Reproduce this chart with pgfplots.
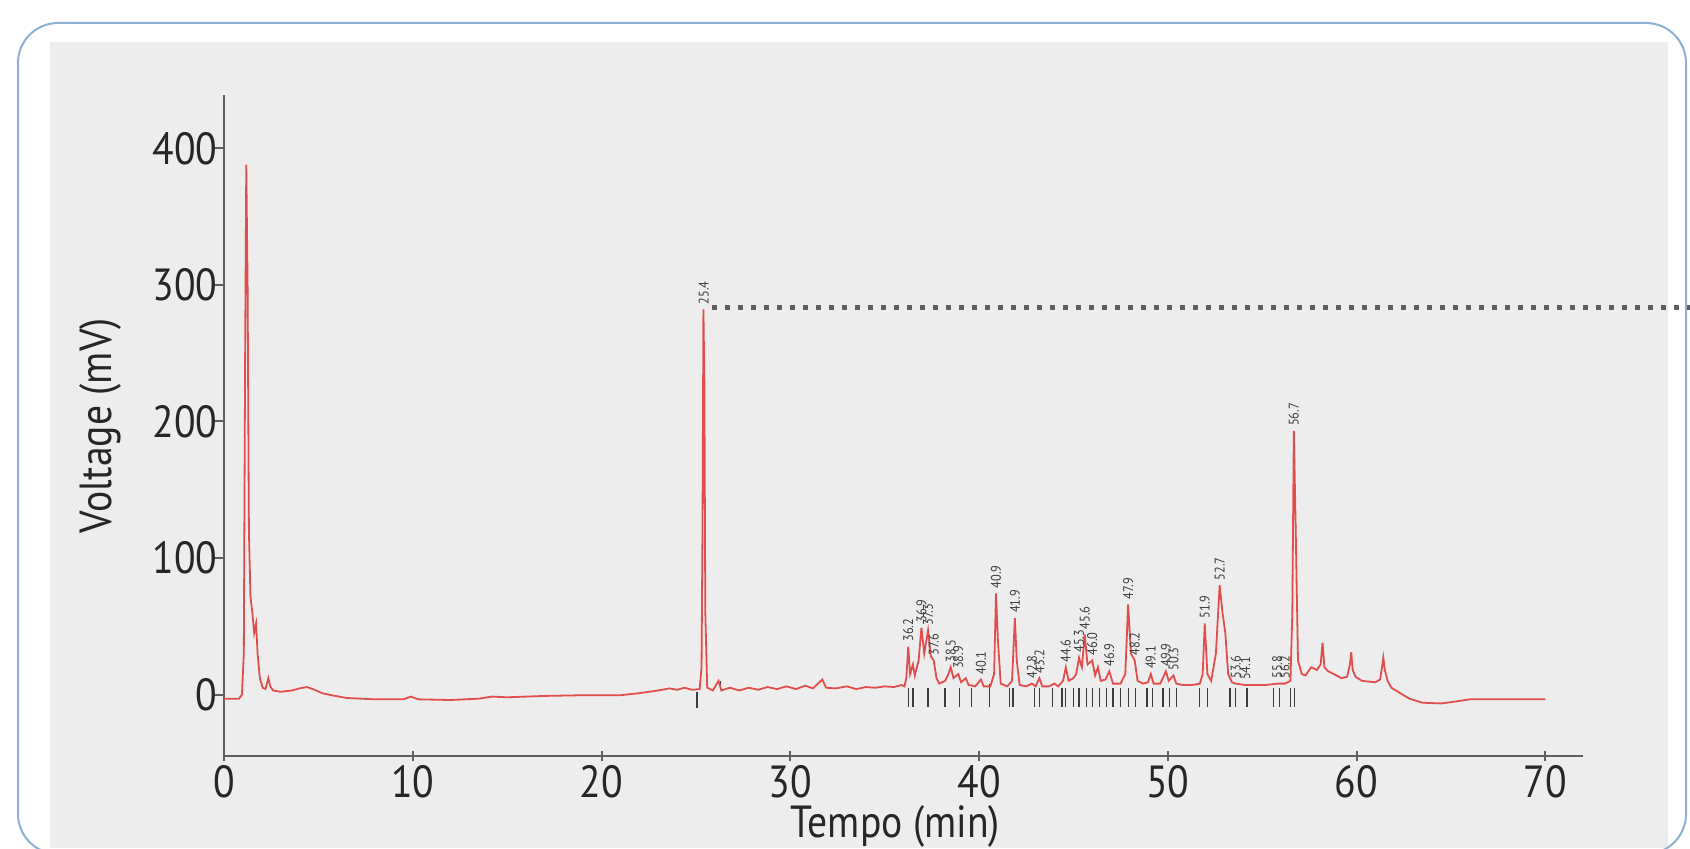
\documentclass[border=0pt]{standalone}
\usepackage{fontspec}
\setmainfont{PT Sans}[FakeStretch=0.88]
\usepackage{pgfplots}
\pgfplotsset{compat=1.18}
\definecolor{trace}{RGB}{226,78,78}
\definecolor{panel}{RGB}{236,237,236}
\definecolor{framecol}{RGB}{140,176,212}
\definecolor{axisgray}{RGB}{95,95,95}
\definecolor{dotcol}{RGB}{95,95,95}
\definecolor{labcol}{RGB}{60,60,60}

\begin{document}
\begin{tikzpicture}
\useasboundingbox (0,0) rectangle (845pt,424pt);
\fill[white] (0,0) rectangle (845pt,424pt);
\fill[panel] (25pt,0) rectangle (834pt,403pt);
\draw[framecol, line width=1pt, rounded corners=20pt] (9pt,-3pt) rectangle (843pt,412.5pt);
\begin{axis}[
  at={(112pt,46pt)}, anchor=south west,
  scale only axis, width=679.5pt, height=330.5pt,
  xmin=0, xmax=72, ymin=-45, ymax=439,
  axis lines=left,
  axis line style={-, draw=axisgray, line width=1.2pt},
  xtick={0,10,...,70}, ytick={0,100,...,400},
  xtick align=center, ytick align=outside,
  major tick length=5pt,
  tick style={axisgray, line width=1pt},
  /pgf/number format/assume math mode=true,
  tick label style={font=\fontsize{22.5}{26}\selectfont, text=black!85},
  xticklabel style={inner sep=0pt, yshift=-2pt},
  yticklabel style={inner sep=0pt, xshift=1.8pt},
  xlabel={Tempo (min)}, ylabel={Voltage (mV)},
  label style={font=\fontsize{22.5}{26}\selectfont, text=black!85},
  xlabel style={at={(axis description cs:0.494,-0.124)}, anchor=base, inner sep=0pt},
  ylabel style={at={(axis description cs:-0.075,0.5)}, anchor=south, inner sep=0pt},
  clip=false,
]
% dotted reference line
\addplot[dotcol, line width=2.8pt, dash pattern=on 2.6pt off 3.9pt] coordinates {(25.85,283.5)(78,283.5)};
% peak markers
\addplot[labcol, line width=0.6pt, unbounded coords=jump] coordinates {
(25.06,2)(25.06,-10)(25.06,nan)
(26.3,3)(26.3,10)(26.3,nan)
(36.25,5)(36.25,-9)(36.25,nan)(36.5,5)(36.5,-9)(36.5,nan)(37.3,5)(37.3,-9)(37.3,nan)
(38.2,5)(38.2,-9)(38.2,nan)(38.98,5)(38.98,-9)(38.98,nan)(39.6,5)(39.6,-9)(39.6,nan)
(40.57,8)(40.57,-9)(40.57,nan)(41.6,5)(41.6,-9)(41.6,nan)(41.8,5)(41.8,-9)(41.8,nan)
(42.95,5)(42.95,-9)(42.95,nan)(43.2,5)(43.2,-9)(43.2,nan)(43.9,5)(43.9,-9)(43.9,nan)
(44.4,5)(44.4,-9)(44.4,nan)(44.6,5)(44.6,-9)(44.6,nan)(45.0,5)(45.0,-9)(45.0,nan)
(45.3,5)(45.3,-9)(45.3,nan)(45.7,5)(45.7,-9)(45.7,nan)(46.0,5)(46.0,-9)(46.0,nan)
(46.4,5)(46.4,-9)(46.4,nan)(46.75,5)(46.75,-9)(46.75,nan)(47.1,5)(47.1,-9)(47.1,nan)
(47.5,5)(47.5,-9)(47.5,nan)(47.9,5)(47.9,-9)(47.9,nan)(48.3,5)(48.3,-9)(48.3,nan)
(48.9,5)(48.9,-9)(48.9,nan)(49.2,5)(49.2,-9)(49.2,nan)(49.75,5)(49.75,-9)(49.75,nan)
(50.1,5)(50.1,-9)(50.1,nan)(50.45,5)(50.45,-9)(50.45,nan)(51.7,5)(51.7,-9)(51.7,nan)
(52.1,5)(52.1,-9)(52.1,nan)(53.3,5)(53.3,-9)(53.3,nan)(53.6,5)(53.6,-9)(53.6,nan)
(54.2,5)(54.2,-9)(54.2,nan)(55.6,5)(55.6,-9)(55.6,nan)(55.9,5)(55.9,-9)(55.9,nan)
(56.5,5)(56.5,-9)(56.5,nan)(56.7,5)(56.7,-9)
};
% chromatogram trace
\addplot[trace, line width=0.9pt] coordinates {
(0,-3)(0.8,-3)(0.95,0)(1.05,30)(1.12,250)(1.18,388)(1.25,300)(1.32,120)(1.4,72)
(1.5,60)(1.6,45)(1.7,52)(1.78,30)(1.9,12)(2.05,5)(2.2,4)(2.35,12)(2.45,6)(2.6,3)
(3.0,2)(3.6,3)(4.0,4.5)(4.4,5.5)(4.8,3.5)(5.2,1)(5.7,-0.5)(6.5,-2.5)(8,-3.5)
(9.5,-3.5)(9.9,-1.5)(10.3,-3.5)(12,-4)(13.5,-3)(14.2,-1.5)(15,-2)(17,-1)(19,-0.5)
(21,-0.5)(22,1)(22.5,2)(23,3)(23.6,4.5)(24,3.5)(24.4,5)(24.8,3.5)(25.2,4)
(25.3,20)(25.35,120)(25.4,282)(25.45,230)(25.5,60)(25.6,5)
(25.9,3)(26.2,10)(26.35,3)(26.8,5)(27.3,3)(27.8,5)(28.3,3.5)(28.8,5.5)(29.3,4)
(29.8,6)(30.3,4)(30.8,6.5)(31.2,4.5)(31.7,11)(31.9,5)(32.4,4.5)(33,6)(33.5,4)
(34,5.5)(34.5,5)(35,6)(35.5,5.5)(35.9,7)(36.05,6)
(36.15,12)(36.25,35)(36.35,15)(36.5,22)(36.6,14)(36.8,25)(36.95,49)(37.1,30)
(37.3,47)(37.45,28)(37.6,25)(37.75,12)(37.9,8)(38.2,10)(38.35,14)(38.5,20)
(38.65,12)(38.9,15)(39.05,9)(39.3,12)(39.45,7)(39.8,6)(40.1,11)(40.25,6)(40.6,6)
(40.8,15)(40.9,74)(41.0,40)(41.15,8)(41.5,6)(41.75,10)(41.9,56)(42.0,25)(42.15,7)
(42.5,6)(42.8,8)(43.0,6)(43.2,12)(43.35,6)(43.7,6)(44.0,8)(44.2,6)(44.45,10)
(44.6,20)(44.75,10)(45.0,12)(45.15,15)(45.3,27)(45.45,20)(45.6,44)(45.75,22)
(46.0,25)(46.15,14)(46.3,20)(46.45,10)(46.7,11)(46.9,17)(47.1,8)(47.5,8)(47.75,15)
(47.9,66)(48.05,30)(48.25,25)(48.4,10)(48.7,8)(48.95,9)(49.1,15)(49.25,8)(49.6,8)
(49.9,17)(50.05,10)(50.3,14)(50.45,8)(50.8,7)(51.3,7)(51.7,8)(51.85,15)(51.96,52)
(52.1,15)(52.3,10)(52.55,30)(52.75,80)(52.9,60)(53.05,45)(53.2,15)(53.4,9)(53.6,8)
(54.1,7)(54.6,7)(55.2,7)(55.8,8)(56.2,8)(56.5,10)(56.6,60)(56.68,193)(56.78,120)
(56.9,25)(57.1,15)(57.3,14)(57.6,20)(57.9,18)(58.1,22)(58.2,38)(58.3,20)(58.5,17)
(58.8,15)(59.2,12)(59.5,13)(59.65,22)(59.72,31)(59.8,18)(59.95,13)(60.3,10)(61.0,9)
(61.25,11)(61.35,20)(61.42,27)(61.5,18)(61.65,10)(61.85,5)(62.2,2)(62.8,-3)
(63.5,-6)(64.5,-6.5)(65.3,-5)(66,-3.5)(68,-3.5)(70,-3.5)
};
% peak labels
\addplot[draw=none, nodes near coords, point meta=explicit symbolic,
  nodes near coords style={rotate=90, anchor=west, inner sep=1pt,
    font=\fontsize{7}{8}\selectfont, text=labcol}] coordinates {
(25.42,284)[25.4] (36.25,37)[36.2] (36.95,51)[36.9] (37.3,49)[37.3] (37.6,27)[37.6]
(38.5,22)[38.5] (38.9,17)[38.9] (40.1,13)[40.1] (40.9,76)[40.9] (41.9,58)[41.9]
(42.8,10)[42.8] (43.2,14)[43.2] (44.6,22)[44.6] (45.3,29)[45.3] (45.6,46)[45.6]
(46.0,27)[46.0] (46.9,19)[46.9] (47.9,68)[47.9] (48.25,27)[48.2] (49.1,17)[49.1]
(49.9,19)[49.9] (50.3,16)[50.3] (51.96,54)[51.9] (52.75,82)[52.7] (53.6,10)[53.6]
(54.1,9)[54.1] (55.8,10)[55.8] (56.2,10)[56.2] (56.68,195)[56.7]
};
\end{axis}
\end{tikzpicture}
\end{document}
